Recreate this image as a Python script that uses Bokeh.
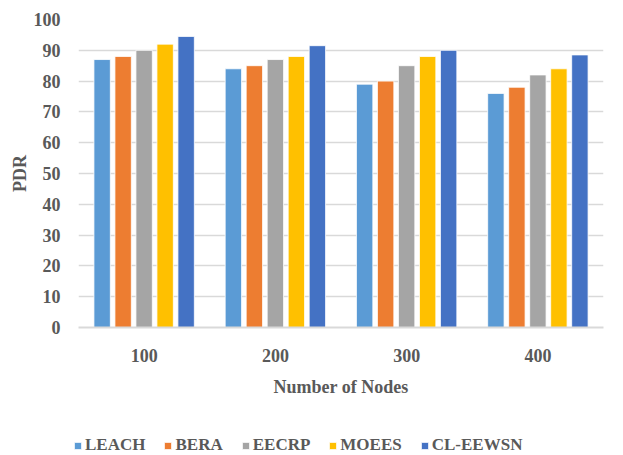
from bokeh.plotting import figure
from bokeh.layouts import column
from bokeh.models import Legend, LegendItem, ColumnDataSource, FactorRange, FixedTicker, Range1d
from bokeh.transform import dodge
from bokeh.embed import file_html
from bokeh.resources import INLINE

nodes = ["100", "200", "300", "400"]
series = ["LEACH", "BERA", "EECRP", "MOEES", "CL-EEWSN"]
leach = [87, 84, 79, 76]
bera = [88, 85, 80, 78]
eecrp = [90, 87, 85, 82]
moees = [92, 88, 88, 84]
cleewsn = [94.5, 91.5, 90, 88.5]
colors = ["#5B9BD5", "#ED7D31", "#A5A5A5", "#FFC000", "#4472C4"]
y_ticks = [0, 10, 20, 30, 40, 50, 60, 70, 80, 90, 100]

source = ColumnDataSource(data=dict(nodes=nodes, LEACH=leach, BERA=bera,
                                    EECRP=eecrp, MOEES=moees, CLEEWSN=cleewsn))
cols = ["LEACH", "BERA", "EECRP", "MOEES", "CLEEWSN"]

p = figure(x_range=FactorRange(*nodes, range_padding=0), y_range=(0, 100),
           width=623, height=400, output_backend="svg", toolbar_location=None,
           min_border_left=78, min_border_right=20, min_border_top=19, min_border_bottom=73)
p.outline_line_color = None

font = "'Liberation Serif', 'Times New Roman', serif"
grey = "#595959"
pitch = 0.16
for i, (c, col) in enumerate(zip(cols, colors)):
    p.vbar(x=dodge("nodes", (i - 2) * pitch, range=p.x_range), top=c, width=0.125,
           source=source, fill_color=col, line_color="white", line_width=0.8)

p.xgrid.grid_line_color = None
p.ygrid.grid_line_color = "#D9D9D9"
p.ygrid.grid_line_width = 1.5
p.yaxis.ticker = FixedTicker(ticks=y_ticks)

for ax in (p.xaxis[0], p.yaxis[0]):
    ax.major_tick_line_color = None
    ax.minor_tick_line_color = None
    ax.major_label_text_font = font
    ax.major_label_text_font_style = "bold"
    ax.major_label_text_font_size = "18px"
    ax.major_label_text_color = grey
    ax.axis_label_text_font = font
    ax.axis_label_text_font_style = "bold"
    ax.axis_label_text_font_size = "18px"
    ax.axis_label_text_color = grey

p.yaxis.axis_line_color = None
p.xaxis.axis_line_color = "#D9D9D9"
p.xaxis.axis_line_width = 2
p.xaxis.major_label_standoff = 15
p.yaxis.major_label_standoff = 12
p.xaxis.axis_label = "Number of Nodes"
p.yaxis.axis_label = "PDR"
p.xaxis.axis_label_standoff = 12
p.yaxis.axis_label_standoff = 1

# legend strip below the chart
lf = figure(width=623, height=55, output_backend="svg", toolbar_location=None,
            x_axis_type=None, y_axis_type=None, min_border=0,
            x_range=Range1d(0, 1), y_range=Range1d(0, 1))
lf.frame_align = False
lf.outline_line_color = None
lf.xgrid.grid_line_color = None
lf.ygrid.grid_line_color = None
items = []
for c, name, col in zip(cols, series, colors):
    r = lf.vbar(x=c, top=c, width=0.125, source=source, fill_color=col,
                line_color="white", line_width=0.8, visible=False)
    items.append(LegendItem(label=name, renderers=[r]))

legend = Legend(items=items, orientation="horizontal", location=(73, 0),
                glyph_width=9, glyph_height=9, label_standoff=3, spacing=18,
                padding=0, margin=0, border_line_color=None, background_fill_alpha=0,
                label_text_font=font, label_text_font_style="bold",
                label_text_font_size="17px", label_text_color=grey)
lf.add_layout(legend, "center")

layout = column(p, lf, spacing=0)
open("out.html", "w").write(file_html(layout, INLINE))
